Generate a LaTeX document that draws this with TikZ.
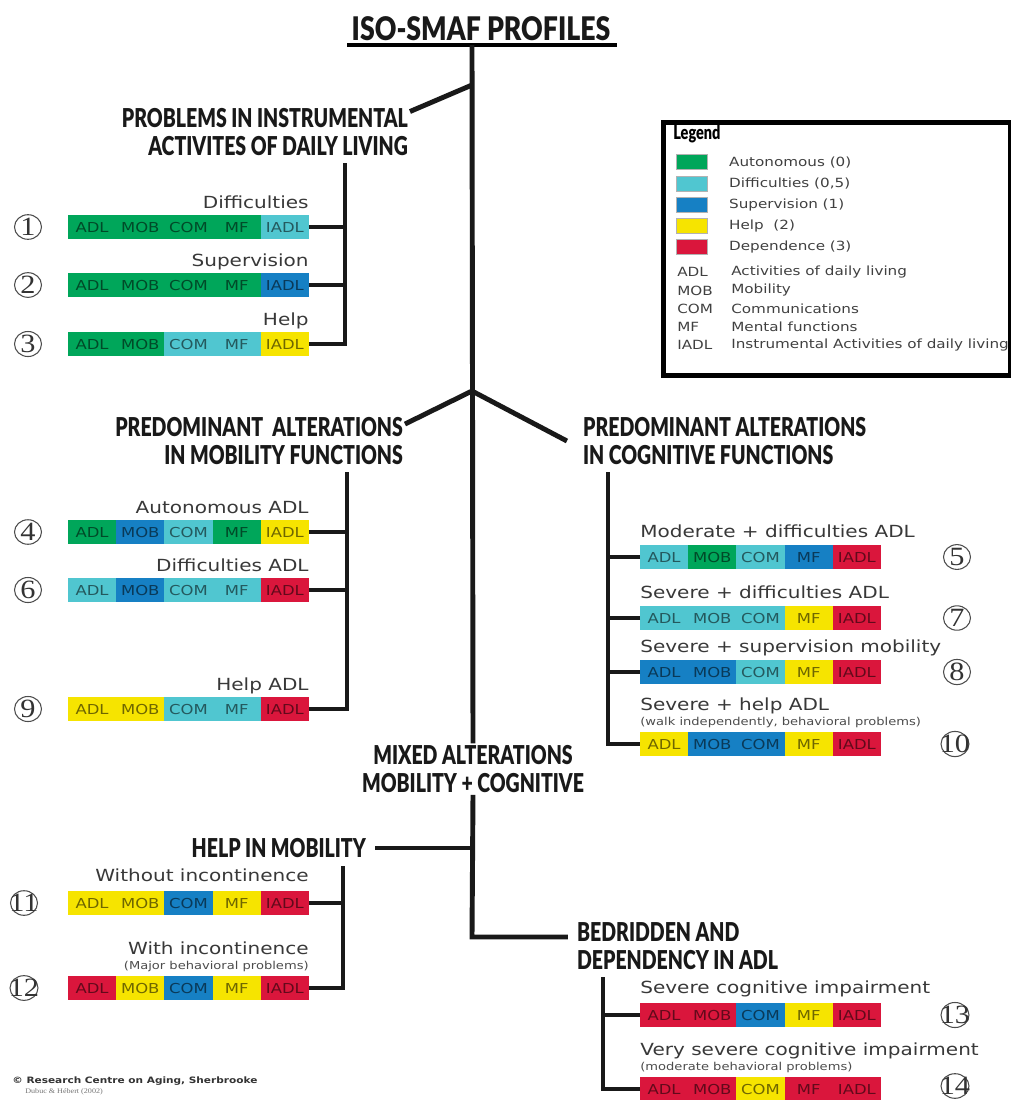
\documentclass[tikz,border=0pt]{standalone}
\usepackage{fontspec}
\setmainfont{DejaVu Sans}[FakeStretch=1.2]
\newfontfamily\headfont{Lato Black}[FakeStretch=0.75]
\newfontfamily\titlefont{Lato Black}[FakeStretch=0.82]
\newfontfamily\numfont{Liberation Serif}[FakeStretch=1.15]
\usepackage{tikz}
\usetikzlibrary{calc,positioning,shapes.geometric}
\definecolor{aut}{RGB}{0,166,90}
\definecolor{dif}{RGB}{80,198,208}
\definecolor{sup}{RGB}{22,128,196}
\definecolor{hlp}{RGB}{246,228,0}
\definecolor{dep}{RGB}{218,22,60}
\tikzset{
  branch/.style={line width=2.8pt, draw=black!90},
  seg/.style={minimum width=0.964cm, minimum height=0.48cm, inner sep=0pt, outer sep=0pt,
    text height=5.7pt, text depth=0pt,
    anchor=west, text=black, text opacity=0.55, font=\fontsize{7.8}{9}\selectfont},
  lbl/.style={inner sep=0pt, text=black!78, font=\fontsize{9.5}{11}\selectfont},
  note/.style={inner sep=0pt, text=black!70, font=\fontsize{6.2}{7}\selectfont},
  head/.style={inner sep=1pt, text=black!90, font=\headfont\fontsize{14.8}{15.9}\selectfont},
  num/.style={ellipse, draw=black!70, line width=0.6pt, inner sep=0pt, minimum width=0.54cm,
    minimum height=0.48cm, text=black!80, font=\numfont\fontsize{15}{15}\selectfont},
  num2/.style={num, inner xsep=-3pt},
  swatch/.style={minimum width=0.62cm, minimum height=0.3cm, inner sep=0pt, draw=black!30, line width=0.3pt},
  legtext/.style={inner sep=0pt, anchor=west, text=black!75, font=\fontsize{7.2}{8}\selectfont},
}
% one profile: name, left end, five colours
\newcommand{\profilebar}[7]{%
  \foreach \lab/\col [count=\i] in {ADL/#3,MOB/#4,COM/#5,MF/#6,IADL/#7}
    \node[seg,fill=\col] (#1-\i) at ($(#2)+(48.2*\i-48.2,0)$) {\lab};
}

\begin{document}
\begin{tikzpicture}[x=0.02cm,y=-0.02cm]
\useasboundingbox (0,0) rectangle (1011,1100);

% title and trunk
\node[inner sep=1pt, text=black!90, font=\titlefont\fontsize{18.5}{20}\selectfont] (title) at (481,29) {ISO-SMAF PROFILES};
\draw[line width=2.8pt] (347,45) -- (617,45);
\coordinate (root) at (472,45);
\coordinate (fork1) at (472,85);
\coordinate (fork2) at (472,391);

\node[head, align=right, anchor=east] (iadl) at (410,132) {PROBLEMS IN INSTRUMENTAL\\ACTIVITES OF DAILY LIVING};
\node[head, align=right, anchor=east] (mob) at (405,441) {PREDOMINANT\ \ ALTERATIONS\\IN MOBILITY FUNCTIONS};
\node[head, align=left, anchor=west] (cog) at (581,441) {PREDOMINANT ALTERATIONS\\IN COGNITIVE FUNCTIONS};
\node[head, align=center] (mixed) at (473,769) {MIXED ALTERATIONS\\MOBILITY + COGNITIVE};
\node[head, anchor=east] (helpmob) at (368,848) {HELP IN MOBILITY};
\node[head, align=left, anchor=west] (bed) at (575,946) {BEDRIDDEN AND\\DEPENDENCY IN ADL};

\draw[branch] (root) -- (mixed.north);
\draw[branch] (fork1) -- ([yshift=-3pt]iadl.north east);
\draw[branch] (fork2) -- ([yshift=-5pt]mob.north east);
\draw[branch] (fork2) -- ([xshift=-8pt]cog.west);
\coordinate (bedjoin) at (472,937);
\draw[branch] (mixed.south) -- (bedjoin) -- ([xshift=-4pt]bedjoin -| bed.west);
\draw[branch] ([xshift=4pt]helpmob.east) -- (helpmob.east -| mixed.south);

% profiles
\profilebar{p1}{68,227}{aut}{aut}{aut}{aut}{dif}
\profilebar{p2}{68,285}{aut}{aut}{aut}{aut}{sup}
\profilebar{p3}{68,344}{aut}{aut}{dif}{dif}{hlp}
\profilebar{p4}{68,532}{aut}{sup}{dif}{aut}{hlp}
\profilebar{p6}{68,590}{dif}{sup}{dif}{dif}{dep}
\profilebar{p9}{68,709}{hlp}{hlp}{dif}{dif}{dep}
\profilebar{p11}{68,903}{hlp}{hlp}{sup}{hlp}{dep}
\profilebar{p12}{68,988}{dep}{hlp}{sup}{hlp}{dep}
\profilebar{p5}{640,557}{dif}{aut}{dif}{sup}{dep}
\profilebar{p7}{640,618}{dif}{dif}{dif}{hlp}{dep}
\profilebar{p8}{640,672}{sup}{sup}{dif}{hlp}{dep}
\profilebar{p10}{640,744}{hlp}{sup}{sup}{hlp}{dep}
\profilebar{p13}{640,1015}{dep}{dep}{sup}{hlp}{dep}
\profilebar{p14}{640,1089}{dep}{dep}{hlp}{dep}{dep}

% sub-branches
\coordinate (iadlv) at (345,163);
\coordinate (mobv) at (347,472);
\coordinate (cogv) at (608,472);
\coordinate (helpv) at (343,866);
\coordinate (bedv) at (603,977);
\draw[branch] (iadlv) |- (p3-5.east);
\foreach \p in {p1,p2} \draw[branch] (\p-5.east) -- (\p-5.east -| iadlv);
\draw[branch] (mobv) |- (p9-5.east);
\foreach \p in {p4,p6} \draw[branch] (\p-5.east) -- (\p-5.east -| mobv);
\draw[branch] (cogv) |- (p10-1.west);
\foreach \p in {p5,p7,p8} \draw[branch] (\p-1.west) -- (\p-1.west -| cogv);
\draw[branch] (helpv) |- (p12-5.east);
\draw[branch] (p11-5.east) -- (p11-5.east -| helpv);
\draw[branch] (bedv) |- (p14-1.west);
\draw[branch] (p13-1.west) -- (p13-1.west -| bedv);

% labels
\node[lbl, anchor=base east] (l1) at ([yshift=3.8pt]p1-5.north east) {Difficulties};
\node[lbl, anchor=base east] (l2) at ([yshift=3.8pt]p2-5.north east) {Supervision};
\node[lbl, anchor=base east] (l3) at ([yshift=3.8pt]p3-5.north east) {Help};
\node[lbl, anchor=base east] (l4) at ([yshift=3.8pt]p4-5.north east) {Autonomous ADL};
\node[lbl, anchor=base east] (l6) at ([yshift=3.8pt]p6-5.north east) {Difficulties ADL};
\node[lbl, anchor=base east] (l9) at ([yshift=3.8pt]p9-5.north east) {Help ADL};
\node[lbl, anchor=base east] (l11) at ([yshift=5.5pt]p11-5.north east) {Without incontinence};
\node[note, anchor=base east] (s12) at ([yshift=3.5pt]p12-5.north east) {(Major behavioral problems)};
\node[lbl, anchor=base east] (l12) at ([yshift=9pt]s12.base east) {With incontinence};
\node[lbl, anchor=base west] (l5) at ([yshift=4pt]p5-1.north west) {Moderate + difficulties ADL};
\node[lbl, anchor=base west] (l7) at ([yshift=4pt]p7-1.north west) {Severe + difficulties ADL};
\node[lbl, anchor=base west] (l8) at ([yshift=4pt]p8-1.north west) {Severe + supervision mobility};
\node[note, anchor=base west] (s10) at ([yshift=3.5pt]p10-1.north west) {(walk independently, behavioral problems)};
\node[lbl, anchor=base west] (l10) at ([yshift=9pt]s10.base west) {Severe + help ADL};
\node[lbl, anchor=base west] (l13) at ([yshift=5.5pt]p13-1.north west) {Severe cognitive impairment};
\node[note, anchor=base west] (s14) at ([yshift=3.5pt]p14-1.north west) {(moderate behavioral problems)};
\node[lbl, anchor=base west] (l14) at ([yshift=8.5pt]s14.base west) {Very severe cognitive impairment};

% profile numbers
\foreach \p/\n in {p1/1,p2/2,p3/3,p4/4,p6/6,p9/9}
  \node[num] (n\n) at ($(\p-1.west)+(-40,0)$) {\n};
\foreach \p/\n in {p11/11,p12/12}
  \node[num2] (n\n) at ($(\p-1.west)+(-44,0)$) {\n};
\foreach \p/\n in {p5/5,p7/7,p8/8}
  \node[num] (n\n) at ($(\p-5.east)+(76,0)$) {\n};
\foreach \p/\n in {p10/10,p13/13}
  \node[num2] (n\n) at ($(\p-5.east)+(74,0)$) {\n};
\node[num2] (n14) at ($(p14-5.east)+(74,-3)$) {14};

% legend
\node[draw, line width=2.8pt, minimum width=6.94cm, minimum height=5.06cm, inner sep=0pt, anchor=north west] (legend) at (661,120) {};
\node[inner sep=0pt, anchor=west, font=\headfont\fontsize{11}{12}\selectfont] (legtitle) at (673,134) {Legend};
\foreach \col/\txt [count=\i] in {aut/Autonomous (0), dif/{Difficulties (0,5)}, sup/Supervision (1), hlp/{Help\ \ (2)}, dep/Dependence (3)} {
  \node[swatch, fill=\col] (sw\i) at (692,141+21.2*\i) {};
  \node[legtext, right=12pt of sw\i] (st\i) {\txt};
}
\foreach \abbr/\txt [count=\i] in {ADL/Activities of daily living, MOB/Mobility, COM/Communications, MF/Mental functions, IADL/Instrumental Activities of daily living} {
  \node[legtext] (ab\i) at (677,254+18.2*\i) {\abbr};
  \node[legtext] (ad\i) at (731,254+18.2*\i) {\txt};
}

% credit
\node[inner sep=0pt, anchor=base west, text=black!80, font=\bfseries\fontsize{5}{6}\selectfont] (credit) at (12,1083) {© Research Centre on Aging, Sherbrooke};
\node[inner sep=0pt, anchor=base west, text=black!55, font=\numfont\fontsize{4}{5}\selectfont] (year) at (25,1093) {Dubuc \& Hébert (2002)};
\end{tikzpicture}
\end{document}
